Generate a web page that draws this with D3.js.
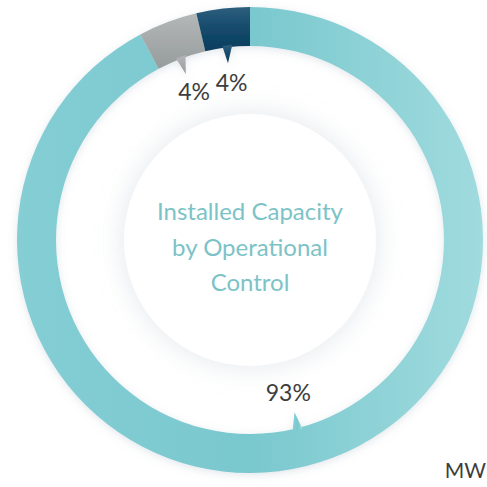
<!DOCTYPE html>
<html>
<head>
<meta charset="utf-8">
<script src="https://cdn.jsdelivr.net/npm/d3@7"></script>
<style>
  html, body { margin: 0; padding: 0; background: #fff; }
  svg { display: block; font-family: Lato, "Open Sans", sans-serif; }
</style>
</head>
<body>
<div id="chart"></div>
<script>
// values (share of installed capacity, MW)
const categories = ["Operated", "Joint", "Non-operated"];
const values = [92.2, 4.1, 3.7];
const labels = ["93%", "4%", "4%"];
const titleLines = ["Installed Capacity", "by Operational", "Control"];
const unit = "MW";

const width = 487, height = 487;
const cx = 250, cy = 240;
const outerR = 233, innerR = 194, discR = 126;

const svg = d3.select("#chart").append("svg")
    .attr("width", width)
    .attr("height", height);

const defs = svg.append("defs");

// soft shadows
defs.append("filter").attr("id", "ringShadow")
    .attr("x", "-20%").attr("y", "-20%").attr("width", "140%").attr("height", "140%")
  .append("feDropShadow")
    .attr("dx", 0).attr("dy", 2).attr("stdDeviation", 4)
    .attr("flood-color", "#8a9bb0").attr("flood-opacity", 0.25);

defs.append("filter").attr("id", "discShadow")
    .attr("x", "-50%").attr("y", "-50%").attr("width", "200%").attr("height", "200%")
  .append("feDropShadow")
    .attr("dx", 0).attr("dy", 0).attr("stdDeviation", 14)
    .attr("flood-color", "#aab8c8").attr("flood-opacity", 0.35);

// gradients per slice
const gradStops = [
  { id: "g0", x1: "0%", y1: "0%", x2: "100%", y2: "0%", stops: ["#84ced4", "#79c8ce", "#a0dbde"] },
  { id: "g1", x1: "0%", y1: "0%", x2: "0%", y2: "100%", stops: ["#b3b7b7", "#a5a9a9", "#969b9b"] },
  { id: "g2", x1: "0%", y1: "0%", x2: "0%", y2: "100%", stops: ["#2e5e7d", "#144a6b", "#0a3d5e"] }
];
gradStops.forEach(g => {
  const lg = defs.append("linearGradient").attr("id", g.id)
      .attr("x1", g.x1).attr("y1", g.y1).attr("x2", g.x2).attr("y2", g.y2);
  g.stops.forEach((c, i) => {
    lg.append("stop").attr("offset", (i / (g.stops.length - 1) * 100) + "%").attr("stop-color", c);
  });
});

const g = svg.append("g").attr("transform", `translate(${cx},${cy})`);

const pie = d3.pie().sort(null).value(d => d)(values);
const arc = d3.arc().innerRadius(innerR).outerRadius(outerR);

// centre disc
g.append("circle")
    .attr("r", discR)
    .attr("fill", "#fff")
    .attr("filter", "url(#discShadow)");

// ring
const ring = g.append("g").attr("filter", "url(#ringShadow)");
ring.selectAll("path.slice")
  .data(pie)
  .enter()
  .append("path")
    .attr("class", "slice")
    .attr("d", arc)
    .attr("fill", (d, i) => `url(#g${i})`);

// little pointers sticking inwards from each slice
function pointer(d) {
  const mid = (d.startAngle + d.endAngle) / 2;
  const half = 5 / innerR;
  const p = (a, r) => [r * Math.sin(a), -r * Math.cos(a)];
  const a = p(mid - half, innerR + 2);
  const b = p(mid + half, innerR + 2);
  const t = p(mid - 1.5 / innerR, innerR - 16);
  return `M${a}L${t}L${b}Z`;
}
ring.selectAll("path.pointer")
  .data(pie)
  .enter()
  .append("path")
    .attr("class", "pointer")
    .attr("d", pointer)
    .attr("fill", (d, i) => `url(#g${i})`);

// percentage labels
const labelArc = d3.arc().innerRadius(158).outerRadius(158);
g.selectAll("text.pct")
  .data(pie)
  .enter()
  .append("text")
    .attr("class", "pct")
    .attr("transform", d => `translate(${labelArc.centroid(d)})`)
    .attr("text-anchor", "middle")
    .attr("dy", "0.35em")
    .attr("fill", "#3d3d3d")
    .attr("font-size", 23)
    .text((d, i) => labels[i]);

// title
g.append("text")
    .attr("text-anchor", "middle")
    .attr("fill", "#7cc3c7")
    .attr("font-size", 24)
  .selectAll("tspan")
  .data(titleLines)
  .enter()
  .append("tspan")
    .attr("x", 0)
    .attr("y", (d, i) => -28 + i * 35.5)
    .attr("dy", "0.35em")
    .text(d => d);

// unit
svg.append("text")
    .attr("x", 486)
    .attr("y", 478)
    .attr("text-anchor", "end")
    .attr("fill", "#3d3d3d")
    .attr("font-size", 21)
    .text(unit);
</script>
</body>
</html>
